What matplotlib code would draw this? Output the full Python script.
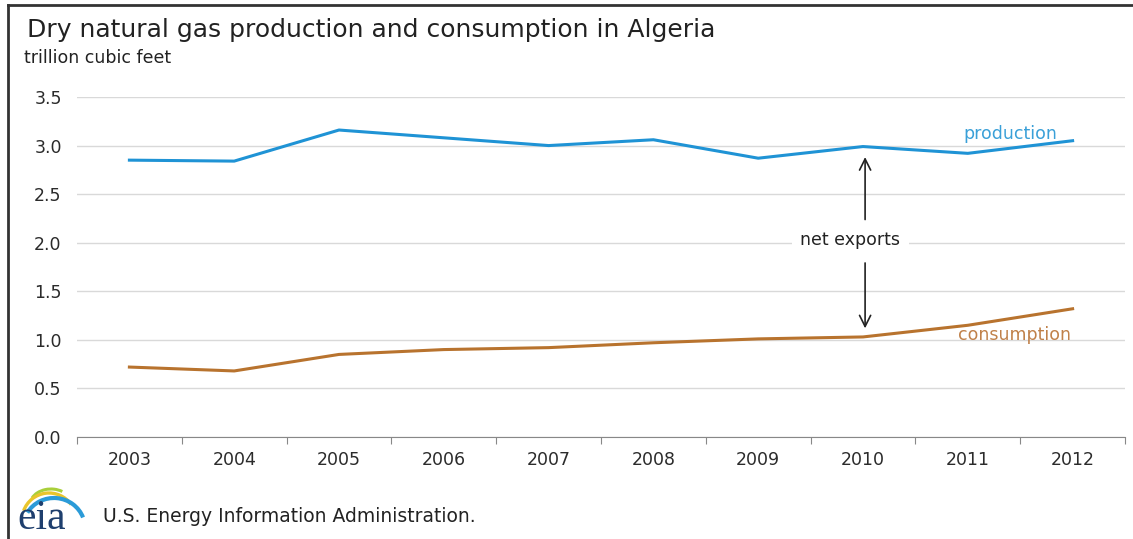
import numpy as np
import matplotlib.pyplot as plt
from matplotlib.lines import Line2D
from matplotlib.patches import Arc
from matplotlib.transforms import IdentityTransform

plt.rcParams['font.family'] = ['DejaVu Sans']

# Algeria dry natural gas, trillion cubic feet
years = ['2003', '2004', '2005', '2006', '2007', '2008', '2009', '2010', '2011', '2012']
production = [2.85, 2.84, 3.16, 3.08, 3.00, 3.06, 2.87, 2.99, 2.92, 3.05]
consumption = [0.72, 0.68, 0.85, 0.90, 0.92, 0.97, 1.01, 1.03, 1.15, 1.32]
y_ticks = [0.0, 0.5, 1.0, 1.5, 2.0, 2.5, 3.0, 3.5]

prod_color = '#1f93d5'
cons_color = '#b8732e'
text_color = '#2b2b2b'

W, H = 1133, 539
fig = plt.figure(figsize=(W / 100, H / 100), dpi=100)
ax = fig.add_axes([77 / W, 1 - 437 / H, (1125 - 77) / W, (437 - 97) / H])

x = np.arange(len(years))
ax.plot(x, production, color=prod_color, linewidth=2.2, solid_joinstyle='round')
ax.plot(x, consumption, color=cons_color, linewidth=2.2, solid_joinstyle='round')

ax.set_xlim(-0.5, len(years) - 0.5)
ax.set_ylim(0, 3.5)

# category axis: tick marks between years, labels centred on each year
ax.set_xticks(np.arange(-0.5, len(years)), labels=[''] * (len(years) + 1))
ax.set_xticks(x, labels=years, minor=True)
ax.tick_params(axis='x', which='major', length=5, color='#888888', direction='out')
ax.tick_params(axis='x', which='minor', length=0, pad=10, labelsize=12.5, labelcolor=text_color)

ax.set_yticks(y_ticks, labels=[f'{v:.1f}' for v in y_ticks])
ax.tick_params(axis='y', length=0, pad=11, labelsize=12.5, labelcolor=text_color)
ax.grid(axis='y', color='#d9d9d9', linewidth=1)
ax.set_axisbelow(True)

for side in ['top', 'right', 'left']:
    ax.spines[side].set_visible(False)
ax.spines['bottom'].set_color('#888888')
ax.spines['bottom'].set_zorder(0.5)

# series labels
ax.text(8.41, 3.12, 'production', color='#3aa0d8', fontsize=12.5, ha='center', va='center')
ax.text(8.45, 1.05, 'consumption', color='#c0814a', fontsize=12.5, ha='center', va='center')

# net exports annotation
ax.text(6.88, 2.03, 'net exports', color='#222222', fontsize=12.5, ha='center', va='center',
        bbox=dict(facecolor='white', edgecolor='none', pad=6))
ax.annotate('', xy=(7.02, 2.91), xytext=(7.02, 2.21),
            arrowprops=dict(arrowstyle='->', color='#222222', lw=1.2, mutation_scale=20))
ax.annotate('', xy=(7.02, 1.09), xytext=(7.02, 1.82),
            arrowprops=dict(arrowstyle='->', color='#222222', lw=1.2, mutation_scale=20))

# title block
fig.text(27 / W, 1 - 30 / H, 'Dry natural gas production and consumption in Algeria',
         fontsize=18, color='#222222', va='center', ha='left')
fig.text(24 / W, 1 - 58 / H, 'trillion cubic feet', fontsize=12.5, color='#222222',
         va='center', ha='left')

# source line with eia logo
fig.text(103 / W, 1 - 516 / H, 'U.S. Energy Information Administration.',
         fontsize=13.5, color='#222222', va='center', ha='left')

# logo swoosh arcs, in pixel coordinates (y measured from the top)
arc_specs = [
    # color, cx, cy, width, height, theta1, theta2, lw
    ('#a9cf3a', 51, 505, 42, 32, 50, 160, 2.2),
    ('#e9c52c', 49, 520, 54, 54, 35, 160, 2.4),
    ('#2b9bd8', 54, 528, 62, 60, 20, 150, 3.0),
]
for color, cx, cy, w, h, t1, t2, lw in arc_specs:
    fig.add_artist(Arc((cx, H - cy), w, h, theta1=t1, theta2=t2, color=color, lw=lw,
                       transform=IdentityTransform()))
fig.text(17 / W, 1 - 529 / H, 'eia', fontsize=30, family='Liberation Serif',
         color='#1f3f6e', va='baseline', ha='left')

# frame lines on top and left edge
fig.add_artist(Line2D([8 / W, 8 / W], [0, 1 - 5 / H], color='#333333', lw=2,
                      transform=fig.transFigure))
fig.add_artist(Line2D([8 / W, 1], [1 - 5 / H, 1 - 5 / H], color='#333333', lw=2,
                      transform=fig.transFigure))

fig.savefig('out.png', dpi=100, facecolor='white')
